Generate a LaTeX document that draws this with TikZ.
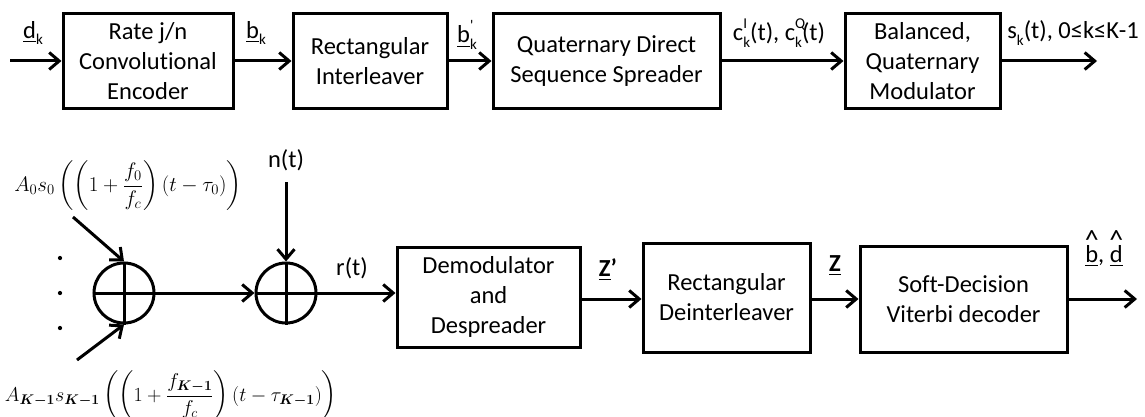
\documentclass[tikz,border=0pt]{standalone}
\usepackage{fix-cm}
\usepackage{amsmath,bm}
\usepackage{fontspec}
\setmainfont{Carlito}[Ligatures=NoCommon]
\usetikzlibrary{arrows.meta}
\newcommand\lsub[1]{\raisebox{-0.28em}{\fontsize{15}{15}\selectfont #1}}
\newcommand\lsup[1]{\raisebox{0.5em}{\fontsize{15}{15}\selectfont #1}}
\newcommand\lsubsup[2]{\makebox[0pt][l]{\lsup{#1}}\lsub{#2}}
\newcommand\hatu[1]{\ooalign{\underline{#1}\cr\hidewidth\raisebox{13pt}{\fontsize{28}{28}\selectfont\textasciicircum}\hidewidth\cr}}
\begin{document}
\begin{tikzpicture}[x=1pt,y=-1pt,
 blk/.style={draw,line width=3pt,inner sep=0pt,align=center,font=\fontsize{24.5}{30}\selectfont},
 arr/.style={line width=3pt,-{Straight Barb[length=10pt,width=17pt]}},
 lbl/.style={inner sep=0pt,font=\fontsize{24.5}{28}\selectfont},
 sum/.style={circle,draw,line width=3pt,minimum size=60pt,inner sep=0pt},
 frm/.style={inner sep=0pt,font=\fontsize{21}{25}\selectfont},
 dot/.style={circle,fill,inner sep=1.5pt}]
\useasboundingbox (0,0) rectangle (1145,417);
% top row
\node[blk,minimum width=170pt,minimum height=95pt] (enc) at (148,61) {Rate j/n\\Convolutional\\Encoder};
\node[blk,minimum width=154pt,minimum height=95pt] (int) at (370,61) {Rectangular\\Interleaver};
\node[blk,minimum width=227pt,minimum height=95pt] (spr) at (606.5,61) {Quaternary Direct\\Sequence Spreader};
\node[blk,minimum width=155pt,minimum height=95pt] (mod) at (922.5,61) {Balanced,\\Quaternary\\Modulator};
\coordinate (in) at (10,61);
\coordinate (out1) at (1097,61);
\draw[arr] (in) -- (enc.west);
\draw[arr] (enc.east) -- (int.west);
\draw[arr] (int.east) -- (spr.west);
\draw[arr] (spr.east) -- (mod.west);
\draw[arr] (mod.east) -- (out1);
\node[lbl] (ldk) at (33,33) {\underline{d}\lsub{k}};
\node[lbl] (lbk) at (256,33) {\underline{b}\lsub{k}};
\node[lbl] (lbpk) at (467,35) {\underline{b}\lsubsup{\textquotesingle}{k}};
\node[lbl] (lc) at (779,33) {c\lsubsup{I}{k}(t), c\lsubsup{Q}{k}(t)};
\node[lbl] (ls) at (1073,33) {s\lsub{k}(t), 0≤k≤K-1};
% bottom row
\node[frm] (f0) at (128,186) {$\displaystyle A_0s_0\left(\left(1+\frac{f_0}{f_c}\right)(t-\tau_0)\right)$};
\node[frm,font=\fontsize{20}{24}\selectfont] (fK) at (171,396) {$\displaystyle A_{\bm{K-1}}s_{\bm{K-1}}\left(\left(1+\frac{f_{\bm{K-1}}}{f_c}\right)(t-\tau_{\bm{K-1}})\right)$};
\node[dot] (d1) at (60,258) {};
\node[dot] (d2) at (60,293) {};
\node[dot] (d3) at (60,328) {};
\node[sum] (s1) at (124,293) {};
\draw[line width=3pt] (s1.north) -- (s1.south) (s1.west) -- (s1.east);
\node[sum] (s2) at (286,293) {};
\draw[line width=3pt] (s2.north) -- (s2.south) (s2.west) -- (s2.east);
\node[lbl] (ln) at (286,160) {n(t)};
\node[lbl] (lr) at (352,268) {r(t)};
\coordinate (a0) at (73,217);
\coordinate (aK) at (77,360);
\coordinate (an) at (286,182);
\draw[arr] (a0) -- (s1.north);
\draw[arr] (aK) -- (s1.south);
\draw[arr] (s1.east) -- (s2.west);
\draw[arr] (an) -- (s2.north);
\node[blk,minimum width=183pt,minimum height=100pt] (dem) at (488.5,297) {Demodulator\\and\\Despreader};
\node[blk,minimum width=167pt,minimum height=109pt] (dei) at (726.5,297.5) {Rectangular\\Deinterleaver};
\node[blk,minimum width=207pt,minimum height=106pt] (vit) at (963.5,299) {Soft-Decision\\Viterbi decoder};
\coordinate (out2) at (1137,299);
\draw[arr] (s2.east) -- (s2.east -| dem.west);
\draw[arr] (dem.east |- 0,299) -- (dei.west |- 0,299);
\draw[arr] (dei.east |- 0,299) -- (vit.west);
\draw[arr] (vit.east) -- (out2);
\node[lbl] (lz1) at (608,270) {\textbf{\underline{Z}’}};
\node[lbl] (lz) at (835,266) {\textbf{\underline{Z}}};
\node[lbl,anchor=base] (lbd) at (1104,262) {\hatu{b}, \hatu{d}};
\end{tikzpicture}
\end{document}
